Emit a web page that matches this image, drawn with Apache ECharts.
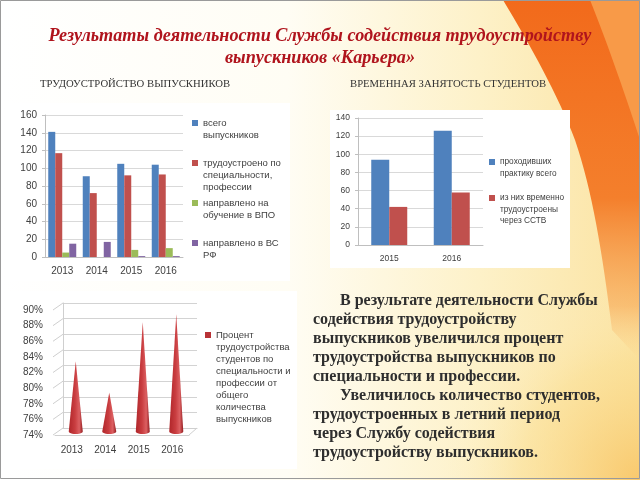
<!DOCTYPE html>
<html><head><meta charset="utf-8">
<script src="https://cdn.jsdelivr.net/npm/echarts@6/dist/echarts.min.js"></script>
<style>html,body{margin:0;padding:0;background:#fff}#c{width:640px;height:480px}</style>
</head><body><div id="c"></div>
<script>
// ---- data ----
var years1 = ['2013', '2014', '2015', '2016'];
var totalGrads = [141, 91, 105, 104];
var employedBySpec = [117, 72, 92, 93];
var sentToUniv = [5, 0, 8, 10];
var sentToArmy = [15, 17, 1, 1];
var names1 = ['всего выпускников', 'трудоустроено по специальности, профессии', 'направлено на обучение в ВПО', 'направлено в ВС РФ'];
var labels1 = ['всего\nвыпускников', 'трудоустроено по\nспециальности,\nпрофессии', 'направлено на\nобучение в ВПО', 'направлено в ВС\nРФ'];

var years2 = ['2015', '2016'];
var practiceTotal = [94, 126];
var tempEmployed = [42, 58];
var names2 = ['проходивших практику всего', 'из них временно трудоустроены через ССТВ'];
var labels2 = ['проходивших\nпрактику всего', 'из них временно\nтрудоустроены\nчерез ССТВ'];

var years3 = ['2013', '2014', '2015', '2016'];
var pctEmployed = [83, 79, 88, 89];
var name3 = 'Процент трудоустройства студентов по специальности и профессии от общего количества выпускников';
var label3 = 'Процент\nтрудоустройства\nстудентов по\nспециальности и\nпрофессии от\nобщего\nколичества\nвыпускников';
var pctTicks = [74, 90, 2];
var pctTickValues = [74, 76, 78, 80, 82, 84, 86, 88, 90];

var chart = echarts.init(document.getElementById('c'), null, {renderer: 'canvas'});
var SANS = 'Liberation Sans';
var SERIF = 'Liberation Serif';
var LBL = '#404040';
var GRIDC = '#d9d9d9';
var AXC = '#bfbfbf';
var C1 = ['#4F81BD', '#C0504D', '#9BBB59', '#8064A2'];

// decoration helper: sample cubic bezier segments into polygon points
function curvePts(start, segs, tail) {
  var pts = [start.slice()];
  var p0 = start;
  segs.forEach(function (s) {
    for (var k = 1; k <= 16; k++) {
      var t = k / 16, u = 1 - t;
      pts.push([
        u*u*u*p0[0] + 3*u*u*t*s[0][0] + 3*u*t*t*s[1][0] + t*t*t*s[2][0],
        u*u*u*p0[1] + 3*u*u*t*s[0][1] + 3*u*t*t*s[1][1] + t*t*t*s[2][1]
      ]);
    }
    p0 = s[2];
  });
  return pts.concat(tail);
}

// legend with the icon aligned to the first text line:
// prepend blank lines so the label's first line sits at the icon centre
function mkLegend(name, label, left, iconY, L, fs) {
  var n = label.split('\n').length;
  var blockH = (2 * n - 1) * L;
  var padded = label;
  for (var k = 1; k < n; k++) padded = ' \n' + padded;
  return {
    show: true, left: left, top: iconY - blockH / 2, padding: 0, orient: 'vertical',
    itemWidth: 6, itemHeight: 6, icon: 'rect', selectedMode: false,
    data: [name],
    formatter: function () { return padded; },
    textStyle: {fontFamily: SANS, fontSize: fs, color: LBL, lineHeight: L}
  };
}

var legends = [];
for (var i = 0; i < 4; i++) legends.push(mkLegend(names1[i], labels1[i], 192, [123, 163, 203, 243][i], 12, 9.5));
legends.push(mkLegend(names2[0], labels2[0], 489, 162, 11.5, 8.3));
legends.push(mkLegend(names2[1], labels2[1], 489, 198, 11.5, 8.3));
legends.push(mkLegend(name3, label3, 205, 335, 12, 9.5));

var coneGrad = new echarts.graphic.LinearGradient(0, 0, 1, 0, [
  {offset: 0, color: '#b0262a'}, {offset: 0.45, color: '#c93d40'},
  {offset: 0.75, color: '#dc6062'}, {offset: 1, color: '#931c20'}]);

function renderCone(params, api) {
  var top = api.coord([api.value(0), api.value(1)]);
  var base = api.coord([api.value(0), pctTicks[0]]);
  var hw = 7, ry = 2.5, x = top[0], yb = base[1];
  var pts = [[x, top[1]]];
  for (var k = 0; k <= 12; k++) {
    var a = Math.PI * k / 12;
    pts.push([x + hw * Math.cos(a), yb + ry * Math.sin(a)]);
  }
  return {type: 'polygon', shape: {points: pts}, style: {fill: coneGrad}};
}

// 3D depth connectors of the perspective frame (front edge -> back wall)
function renderDepth(params, api) {
  var cs = params.coordSys;
  var y = api.coord([0, api.value(0)])[1];
  var children = [{type: 'line', shape: {x1: cs.x - 2, y1: y, x2: cs.x + 8, y2: y - 7},
    style: {stroke: '#cfcfcf', lineWidth: 1}}];
  if (params.dataIndex === 0) {
    children.push({type: 'line', shape: {x1: cs.x + cs.width, y1: y, x2: cs.x + cs.width + 8, y2: y - 7},
      style: {stroke: '#cfcfcf', lineWidth: 1}});
  }
  return {type: 'group', children: children};
}

var orangeA = curvePts([503, 0], [[[530, 45], [558, 95], [575, 140]], [[592, 190], [602, 250], [612, 330]]], [[640, 360], [640, 0]]);
var orangeB = curvePts([590, 0], [[[606, 40], [622, 85], [640, 140]]], [[640, 0]]);

var option = {
  animation: false,
  backgroundColor: 'transparent',
  graphic: [
    {type: 'rect', z: -10, silent: true, shape: {x: 0, y: 0, width: 640, height: 480},
      style: {fill: new echarts.graphic.LinearGradient(0, 0, 1, 0, [
        {offset: 0, color: '#ffffff'}, {offset: 0.45, color: '#fffdf4'},
        {offset: 0.75, color: '#fdf1c8'}, {offset: 1, color: '#fbe3a2'}])}},
    {type: 'rect', z: -10, silent: true, shape: {x: 300, y: 260, width: 340, height: 220},
      style: {fill: new echarts.graphic.RadialGradient(1, 1, 0.9, [
        {offset: 0, color: 'rgba(248,196,100,0.85)'}, {offset: 0.6, color: 'rgba(250,220,140,0.45)'},
        {offset: 1, color: 'rgba(253,240,200,0)'}])}},
    {type: 'polygon', z: -9, silent: true, shape: {points: orangeA},
      style: {fill: new echarts.graphic.LinearGradient(0, 0, 0, 1, [
        {offset: 0, color: '#f26a1b'}, {offset: 0.55, color: '#f47f2c'},
        {offset: 0.85, color: 'rgba(247,165,80,0.6)'}, {offset: 1, color: 'rgba(250,200,120,0)'}])}},
    {type: 'polygon', z: -9, silent: true, shape: {points: orangeB}, style: {fill: '#f89a48'}},
    {type: 'rect', z: -8, silent: true, shape: {x: 5, y: 103, width: 285, height: 178}, style: {fill: '#ffffff'}},
    {type: 'rect', z: -8, silent: true, shape: {x: 330, y: 110, width: 240, height: 158}, style: {fill: '#ffffff'}},
    {type: 'rect', z: -8, silent: true, shape: {x: 5, y: 291, width: 292, height: 178}, style: {fill: '#ffffff'}},
    {type: 'rect', z: 50, silent: true, shape: {x: 0.5, y: 0.5, width: 639, height: 478},
      style: {fill: 'none', stroke: '#9a9a9a', lineWidth: 1}}
  ],
  title: [
    {text: 'Результаты деятельности Службы содействия трудоустройству\nвыпускников «Карьера»',
      left: 'center', top: 25, padding: 0,
      textStyle: {fontFamily: SERIF, fontSize: 18.2, fontStyle: 'italic', fontWeight: 'bold', color: '#b0141d', lineHeight: 22}},
    {text: 'ТРУДОУСТРОЙСТВО ВЫПУСКНИКОВ', left: 40, top: 79, padding: 0,
      textStyle: {fontFamily: SERIF, fontSize: 10.7, fontWeight: 'normal', color: '#333'}},
    {text: 'ВРЕМЕННАЯ ЗАНЯТОСТЬ СТУДЕНТОВ', left: 350, top: 79, padding: 0,
      textStyle: {fontFamily: SERIF, fontSize: 10.7, fontWeight: 'normal', color: '#333'}},
    {text: '{i| }В результате деятельности Службы\nсодействия трудоустройству\nвыпускников увеличился процент\nтрудоустройства выпускников по\nспециальности и профессии.\n{i| }Увеличилось количество студентов,\nтрудоустроенных в летний период\nчерез Службу содействия\nтрудоустройству выпускников.',
      left: 313, top: 291.5, padding: 0,
      textStyle: {fontFamily: SERIF, fontSize: 16, fontWeight: 'bold', color: '#2e2e2e', lineHeight: 19,
        rich: {i: {width: 27, fontSize: 16, lineHeight: 19}}}}
  ],
  legend: legends,
  grid: [
    {left: 45, top: 115, width: 138, height: 142},
    {left: 358, top: 118, width: 125, height: 127},
    {left: 63, top: 303, width: 134, height: 125},
    {left: 55, top: 310, width: 134, height: 125},
    {left: 59, top: 306.5, width: 134, height: 125}
  ],
  xAxis: [
    {gridIndex: 0, type: 'category', data: years1, axisLine: {lineStyle: {color: AXC}}, axisTick: {length: 4, lineStyle: {color: AXC}},
      axisLabel: {fontFamily: SANS, fontSize: 10, color: LBL, margin: 9}},
    {gridIndex: 1, type: 'category', data: years2, axisLine: {lineStyle: {color: AXC}}, axisTick: {length: 4, lineStyle: {color: AXC}},
      axisLabel: {fontFamily: SANS, fontSize: 8.5, color: LBL, margin: 9}},
    {gridIndex: 2, type: 'category', data: years3, axisLine: {lineStyle: {color: '#cfcfcf'}}, axisTick: {show: false}, axisLabel: {show: false}},
    {gridIndex: 3, type: 'category', data: years3, axisLine: {lineStyle: {color: '#cfcfcf'}}, axisTick: {length: 4, lineStyle: {color: '#cfcfcf'}},
      axisLabel: {fontFamily: SANS, fontSize: 10, color: LBL, margin: 10}},
    {gridIndex: 4, type: 'category', data: years3, show: false}
  ],
  yAxis: [
    {gridIndex: 0, type: 'value', min: 0, max: 160, interval: 20, axisLine: {show: true, lineStyle: {color: AXC}},
      axisTick: {show: true, length: 3, lineStyle: {color: AXC}}, splitLine: {lineStyle: {color: GRIDC}},
      axisLabel: {fontFamily: SANS, fontSize: 10, color: LBL, margin: 8}},
    {gridIndex: 1, type: 'value', min: 0, max: 140, interval: 20, axisLine: {show: true, lineStyle: {color: AXC}},
      axisTick: {show: true, length: 3, lineStyle: {color: AXC}}, splitLine: {lineStyle: {color: GRIDC}},
      axisLabel: {fontFamily: SANS, fontSize: 8.5, color: LBL, margin: 8}},
    {gridIndex: 2, type: 'value', min: pctTicks[0], max: pctTicks[1], interval: pctTicks[2], axisLine: {show: true, lineStyle: {color: '#cfcfcf'}},
      axisTick: {show: false}, axisLabel: {show: false}, splitLine: {lineStyle: {color: '#d3d3d3'}}},
    {gridIndex: 3, type: 'value', min: pctTicks[0], max: pctTicks[1], interval: pctTicks[2], axisLine: {show: false},
      axisTick: {show: false}, splitLine: {show: false},
      axisLabel: {fontFamily: SANS, fontSize: 10, color: LBL, margin: 12, formatter: '{value}%'}},
    {gridIndex: 4, type: 'value', min: pctTicks[0], max: pctTicks[1], show: false}
  ],
  series: [
    {name: names1[0], type: 'bar', xAxisIndex: 0, yAxisIndex: 0, data: totalGrads, barWidth: 7, barGap: '0%', itemStyle: {color: C1[0]}},
    {name: names1[1], type: 'bar', xAxisIndex: 0, yAxisIndex: 0, data: employedBySpec, barWidth: 7, barGap: '0%', itemStyle: {color: C1[1]}},
    {name: names1[2], type: 'bar', xAxisIndex: 0, yAxisIndex: 0, data: sentToUniv, barWidth: 7, barGap: '0%', itemStyle: {color: C1[2]}},
    {name: names1[3], type: 'bar', xAxisIndex: 0, yAxisIndex: 0, data: sentToArmy, barWidth: 7, barGap: '0%', itemStyle: {color: C1[3]}},
    {name: names2[0], type: 'bar', xAxisIndex: 1, yAxisIndex: 1, data: practiceTotal, barWidth: 18, barGap: '0%', itemStyle: {color: C1[0]}},
    {name: names2[1], type: 'bar', xAxisIndex: 1, yAxisIndex: 1, data: tempEmployed, barWidth: 18, barGap: '0%', itemStyle: {color: C1[1]}},
    {type: 'custom', xAxisIndex: 3, yAxisIndex: 3, renderItem: renderDepth, silent: true,
      data: pctTickValues.map(function (v) { return [v]; }), encode: {y: 0}, z: 1},
    {name: name3, type: 'custom', xAxisIndex: 4, yAxisIndex: 4, renderItem: renderCone,
      data: pctEmployed.map(function (v, j) { return [j, v]; }), itemStyle: {color: '#b83236'}, z: 5}
  ]
};
chart.setOption(option);
</script></body></html>
